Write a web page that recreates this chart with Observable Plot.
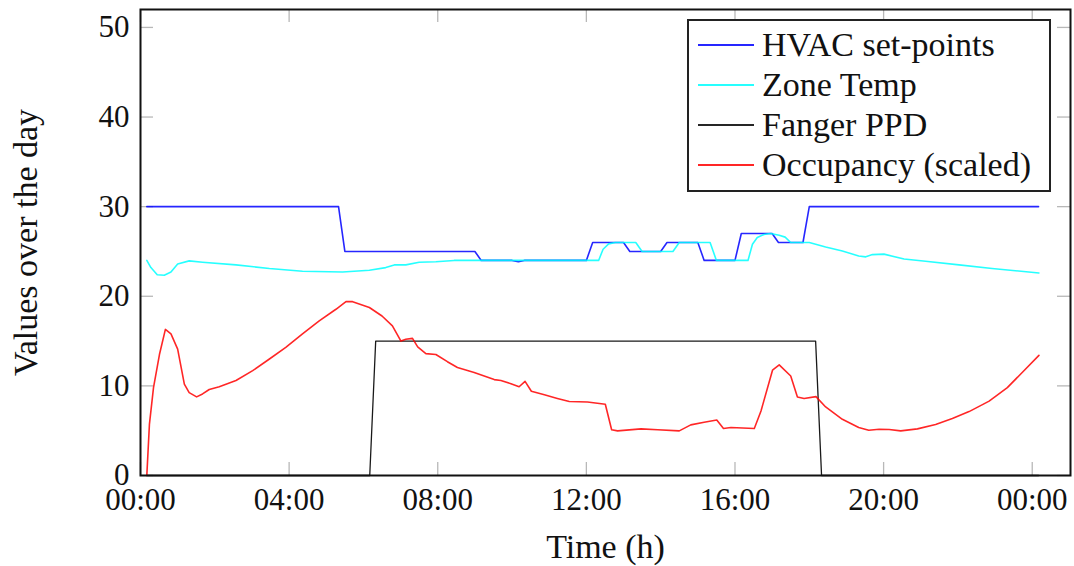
<!DOCTYPE html>
<html>
<head>
<meta charset="utf-8">
<script src="https://cdn.jsdelivr.net/npm/d3@7"></script>
<script src="https://cdn.jsdelivr.net/npm/@observablehq/plot@0.6"></script>
<style>
  html, body { margin: 0; padding: 0; background: #fff; }
  #wrap { position: relative; width: 1074px; height: 566px; }
  #legend { position: absolute; left: 687px; top: 19px; width: 360px; height: 169px;
    border: 2px solid #222; background: #fff; font-family: "Liberation Serif", serif; font-size: 34px; color: #111; }
  .row { position: absolute; left: 0; height: 40px; display: flex; align-items: center; }
  .sw { width: 56px; height: 2px; margin-left: 9px; margin-right: 8px; }
</style>
</head>
<body>
<div id="wrap"><div id="chart"></div><div id="legend"></div></div>
<script>
// ---- data (hours of day, values) ----
const seriesNames = ["HVAC set-points", "Zone Temp", "Fanger PPD", "Occupancy (scaled)"];
const seriesColors = ["#0000ff", "#00ffff", "#000000", "#ff0000"];

const hvacTime  = [0.17, 5.33, 5.5, 9.0, 9.17, 10.0, 10.17, 10.33, 12.0, 12.17, 13.0, 13.17, 14.0, 14.17, 15.0, 15.17, 16.0, 16.17, 17.0, 17.17, 17.83, 18.0, 24.17];
const hvacValue = [30, 30, 25, 25, 24, 24, 23.85, 24, 24, 26, 26, 25, 25, 26, 26, 24, 24, 27, 27, 26, 26, 30, 30];

const zoneTime  = [0.17, 0.28, 0.45, 0.64, 0.82, 1.0, 1.31, 1.67, 2.57, 3.47, 4.36, 5.44, 6.16, 6.6, 6.83, 7.14, 7.5, 7.95, 8.44, 12.33, 12.45, 12.6, 12.78, 13.33, 13.5, 14.33, 14.5, 15.33, 15.5, 16.35, 16.47, 16.6, 16.78, 16.96, 17.19, 17.35, 17.5, 18.0, 18.44, 18.89, 19.33, 19.52, 19.7, 20.01, 20.55, 21.13, 22.03, 22.92, 24.18];
const zoneValue = [24.0, 23.2, 22.4, 22.35, 22.7, 23.6, 23.95, 23.8, 23.5, 23.1, 22.8, 22.7, 22.9, 23.2, 23.5, 23.5, 23.8, 23.85, 24.0, 24.0, 25.25, 25.85, 26.0, 26.0, 25.0, 25.0, 26.0, 26.0, 24.0, 24.0, 25.8, 26.55, 26.9, 27.0, 26.8, 26.6, 26.0, 26.0, 25.5, 25.05, 24.5, 24.4, 24.65, 24.7, 24.15, 23.9, 23.5, 23.1, 22.6];

const ppdTime  = [0.17, 6.17, 6.33, 18.17, 18.33, 24.17];
const ppdValue = [0, 0, 15, 15, 0, 0];

const occTime  = [0.17, 0.24, 0.35, 0.51, 0.67, 0.82, 1.0, 1.18, 1.31, 1.51, 1.67, 1.85, 2.12, 2.57, 3.02, 3.47, 3.91, 4.36, 4.81, 5.26, 5.53, 5.71, 6.16, 6.5, 6.78, 7.01, 7.14, 7.32, 7.46, 7.68, 7.95, 8.26, 8.53, 8.98, 9.52, 9.7, 9.97, 10.19, 10.35, 10.52, 10.87, 11.22, 11.54, 12.03, 12.51, 12.68, 12.84, 13.47, 13.92, 14.5, 14.81, 15.17, 15.51, 15.69, 15.89, 16.52, 16.7, 17.01, 17.19, 17.5, 17.68, 17.86, 18.18, 18.44, 18.89, 19.33, 19.6, 19.88, 20.15, 20.46, 20.91, 21.4, 21.85, 22.3, 22.84, 23.33, 23.73, 24.18];
const occValue = [0, 5.7, 9.8, 13.5, 16.3, 15.8, 14.1, 10.2, 9.25, 8.77, 9.1, 9.6, 9.9, 10.6, 11.7, 13.0, 14.3, 15.8, 17.25, 18.55, 19.4, 19.4, 18.75, 17.8, 16.7, 15.0, 15.2, 15.3, 14.35, 13.6, 13.5, 12.7, 12.05, 11.5, 10.7, 10.6, 10.25, 9.9, 10.5, 9.4, 9.0, 8.6, 8.25, 8.2, 7.95, 5.1, 4.98, 5.2, 5.1, 4.98, 5.65, 5.95, 6.2, 5.25, 5.35, 5.24, 7.2, 11.75, 12.35, 11.1, 8.77, 8.6, 8.8, 7.65, 6.27, 5.35, 5.05, 5.16, 5.13, 4.98, 5.2, 5.7, 6.35, 7.13, 8.3, 9.8, 11.5, 13.4];

const xTicks = [0, 4, 8, 12, 16, 20, 24];
const yTicks = [0, 10, 20, 30, 40, 50];
const xLabel = "Time (h)";
const yLabel = "Values over the day";

// ---- build ----
const toRows = (t, v) => t.map((x, i) => ({x, y: v[i]}));
const rows = [toRows(hvacTime, hvacValue), toRows(zoneTime, zoneValue), toRows(ppdTime, ppdValue), toRows(occTime, occValue)];
const fmt = h => String(h % 24).padStart(2, "0") + ":00";

const W = 1074, H = 566, mT = 9, mB = 91, mL = 140, mR = 4;
const innerH = H - mT - mB, innerW = W - mL - mR;
const tickLen = 13, tickColor = "#b8b8b8";

const plot = Plot.plot({
  width: W, height: H,
  marginTop: mT, marginBottom: mB, marginLeft: mL, marginRight: mR,
  style: {fontFamily: "Liberation Serif, serif", fontSize: "31px", color: "#111", background: "#fff"},
  x: {domain: [0, 25.03]},
  y: {domain: [0, 52]},
  marks: [
    // inward gray tick marks on all four sides
    Plot.tickX(xTicks, {x: d => d, stroke: tickColor, strokeWidth: 1.3, insetTop: innerH - tickLen}),
    Plot.tickX(xTicks, {x: d => d, stroke: tickColor, strokeWidth: 1.3, insetBottom: innerH - tickLen}),
    Plot.tickY(yTicks, {y: d => d, stroke: tickColor, strokeWidth: 1.3, insetRight: innerW - tickLen}),
    Plot.tickY(yTicks, {y: d => d, stroke: tickColor, strokeWidth: 1.3, insetLeft: innerW - tickLen}),
    ...rows.map((r, i) => Plot.line(r, {x: "x", y: "y", stroke: seriesColors[i], strokeWidth: i === 2 ? 1.3 : 1.6, strokeOpacity: i === 2 ? 0.9 : 0.85})),
    Plot.frame({stroke: "#111", strokeWidth: 2}),
    Plot.axisX({ticks: xTicks, tickFormat: fmt, tickSize: 0, tickPadding: 12, label: null}),
    Plot.axisY({ticks: yTicks, tickSize: 0, tickPadding: 11, label: null}),
    Plot.text([xLabel], {frameAnchor: "bottom", dy: 82, lineAnchor: "bottom", textAnchor: "middle", fill: "#111", fontSize: 34}),
    Plot.text([yLabel], {frameAnchor: "left", rotate: -90, dx: -104, lineAnchor: "bottom", textAnchor: "middle", fill: "#111", fontSize: 34})
  ]
});
document.getElementById("chart").appendChild(plot);

// ---- legend ----
const legend = document.getElementById("legend");
seriesNames.forEach((name, i) => {
  const row = document.createElement("div");
  row.className = "row";
  row.style.top = (4 + 40 * i) + "px";
  const sw = document.createElement("div");
  sw.className = "sw";
  sw.style.background = seriesColors[i];
  sw.style.opacity = 0.85;
  const tx = document.createElement("span");
  tx.textContent = name;
  row.appendChild(sw); row.appendChild(tx);
  legend.appendChild(row);
});
</script>
</body>
</html>
